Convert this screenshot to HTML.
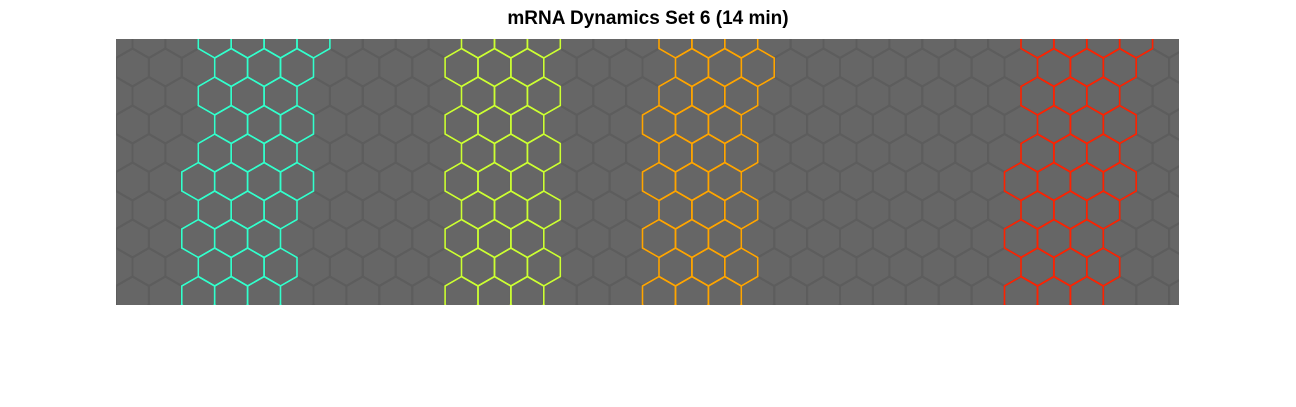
<!DOCTYPE html>
<html><head><meta charset="utf-8"><style>
body{margin:0;background:#fff;width:1296px;height:407px;overflow:hidden;font-family:"Liberation Sans",sans-serif}
#t{position:absolute;left:0;width:1296px;top:8px;text-align:center;font-weight:bold;font-size:19px;color:#000}
svg{position:absolute;left:0;top:0}
</style></head><body>
<div id="t">mRNA Dynamics Set 6 (14 min)</div>
<svg id="s" width="1296" height="407">
<defs><clipPath id="c"><rect x="116" y="39" width="1063" height="266"/></clipPath></defs>
<rect x="116" y="39" width="1063" height="266" fill="#666666"/>
<g id="g" clip-path="url(#c)"></g>
</svg>
<script>
const stripeNames=['cyan-stripe','yellow-stripe','orange-stripe','red-stripe'];
const stripeColors=['#33ffcc','#ccff33','#ffa500','#ff2200'];
const stripeTopX=[262,508,712,1088];
const stripeBottomX=[235,500,695,1055];
const stripeHalfWidth=[55,52,50,55];
const NS='http://www.w3.org/2000/svg';
const g=document.getElementById('g');
const R=19,W=R*Math.sqrt(3),H=R*1.5;
function hex(cx,cy){let p=[];for(let k=0;k<6;k++){const a=Math.PI/180*(60*k+30);p.push((cx+R*Math.cos(a)).toFixed(1)+','+(cy+R*Math.sin(a)).toFixed(1));}return p.join(' ');}
const bg=document.createElementNS(NS,'g');g.appendChild(bg);
const fg=document.createElementNS(NS,'g');g.appendChild(fg);
for(let r=0;r<12;r++){const cy=39+r*H;for(let c=-1;c<36;c++){const cx=116+c*W+(r%2?W/2:0);
 const el=document.createElementNS(NS,'polygon');
 
 
 el.setAttribute('points',hex(cx,cy));el.setAttribute('fill','none');el.setAttribute('stroke','#5d5d5d');el.setAttribute('stroke-width','2');
 bg.appendChild(el);
 const f=(cy-39)/266;
 for(let i=0;i<stripeColors.length;i++){const sx=stripeTopX[i]+(stripeBottomX[i]-stripeTopX[i])*f;
  if(Math.abs(cx-sx)<stripeHalfWidth[i]){const e2=document.createElementNS(NS,'polygon');
   
   
   e2.setAttribute('points',hex(cx,cy));e2.setAttribute('fill','none');e2.setAttribute('stroke',stripeColors[i]);e2.setAttribute('stroke-width','1.6');
   fg.appendChild(e2);}}
}}
</script>
</body></html>
